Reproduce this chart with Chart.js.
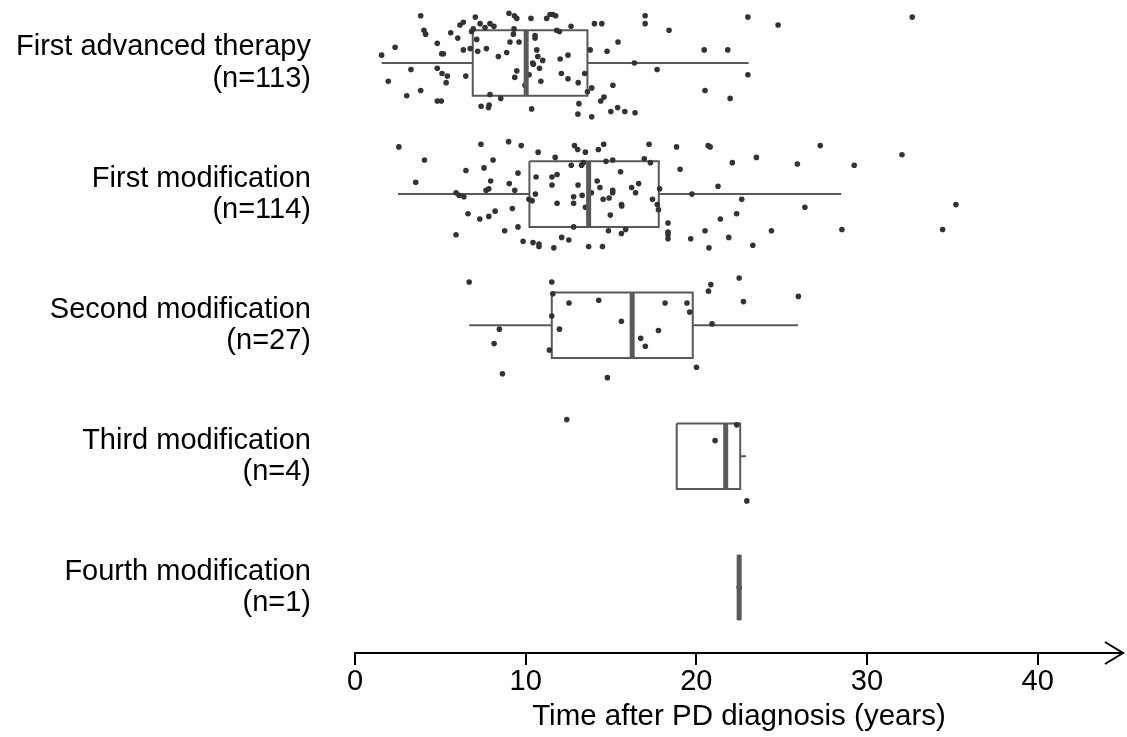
<!DOCTYPE html>
<html>
<head>
<meta charset="utf-8">
<script src="https://cdn.jsdelivr.net/npm/chart.js@4.4.1/dist/chart.umd.min.js"></script>
<style>
  html, body { margin: 0; padding: 0; background: #fff; }
</style>
</head>
<body>
<canvas id="chart" width="1127" height="737"></canvas>
<script>
const categories = [
    ["First advanced therapy", "(n=113)"],
    ["First modification", "(n=114)"],
    ["Second modification", "(n=27)"],
    ["Third modification", "(n=4)"],
    ["Fourth modification", "(n=1)"]
];
const xTicks = [0, 10, 20, 30, 40];

// box plot summaries (years)
const q1 = [6.90, 10.22, 11.53, 18.85, 22.51];
const medians = [10.03, 13.69, 16.24, 21.72, 22.51];
const q3 = [13.62, 17.80, 19.79, 22.57, 22.51];
const whiskerLow = [1.56, 2.52, 6.69, 18.85, 22.51];
const whiskerHigh = [23.06, 28.49, 25.96, 22.91, 22.51];

// individual patients: time (years) and vertical jitter
const firstTherapyTimes = [
    3.85, 2.35, 1.56, 4.04, 4.14, 4.82, 5.08, 5.18, 3.28, 4.82,
    5.10, 5.41, 5.34, 1.95, 3.85, 3.03, 4.82, 5.06, 5.61, 6.02,
    6.15, 6.35, 6.35, 6.49, 6.75, 6.83, 6.93, 7.05, 7.13, 7.19,
    7.33, 7.62, 7.70, 7.91, 8.14, 8.40, 8.89, 9.02, 9.34, 9.48,
    9.32, 9.28, 9.08, 9.61, 9.48, 9.36, 9.96, 7.39, 7.86, 7.91,
    7.82, 8.54, 10.31, 10.55, 10.55, 10.65, 10.71, 11.00, 10.41, 10.45,
    10.81, 10.20, 10.89, 10.35, 11.23, 11.43, 11.59, 11.76, 11.82, 11.98,
    12.02, 12.48, 12.09, 12.48, 12.66, 13.08, 13.46, 13.78, 13.62, 13.87,
    13.12, 13.06, 13.87, 14.03, 14.46, 14.77, 15.41, 15.11, 14.59, 14.40,
    14.99, 15.39, 15.81, 16.41, 16.37, 17.00, 17.00, 18.40, 17.70, 20.46,
    21.84, 20.51, 21.98, 23.02, 23.02, 24.79, 32.65
];
const firstTherapyJitter = [
    -0.36, -0.12, -0.06, -0.25, -0.22, -0.15, -0.07, -0.07, 0.05, 0.04,
    0.08, 0.10, 0.15, 0.14, 0.21, 0.25, 0.29, 0.29, -0.23, -0.19,
    -0.29, -0.31, -0.10, 0.10, -0.11, -0.24, -0.26, -0.35, -0.18, -0.09,
    -0.30, -0.27, -0.11, -0.30, -0.28, -0.05, -0.08, -0.38, -0.36, -0.34,
    -0.26, -0.22, -0.16, -0.16, 0.06, 0.11, 0.17, 0.33, 0.32, 0.24,
    0.34, 0.27, -0.34, -0.21, -0.19, -0.10, -0.05, -0.02, 0.00, 0.01,
    0.04, 0.09, 0.14, 0.35, -0.34, -0.37, -0.37, -0.36, -0.25, -0.24,
    -0.03, -0.06, 0.08, 0.12, -0.28, 0.15, 0.08, -0.10, 0.22, 0.19,
    0.31, 0.39, 0.41, -0.30, -0.30, -0.09, -0.16, 0.17, 0.26, 0.29,
    0.37, 0.34, 0.37, 0.38, 0.00, -0.36, -0.30, -0.25, 0.05, -0.10,
    -0.10, 0.21, 0.27, -0.35, 0.09, -0.29, -0.35
];

const firstModTimes = [
    2.57, 4.07, 3.56, 5.92, 6.10, 6.38, 6.62, 5.92, 6.50, 7.38,
    7.56, 8.09, 7.95, 7.68, 7.84, 7.31, 7.84, 8.21, 9.00, 9.74,
    9.55, 9.04, 9.36, 9.22, 8.77, 9.55, 9.85, 10.43, 10.78, 10.78,
    11.65, 10.73, 11.73, 10.61, 10.57, 10.19, 10.38, 11.54, 11.84, 11.54,
    11.84, 12.11, 12.53, 12.67, 12.86, 13.05, 13.50, 13.27, 13.38, 13.07,
    12.81, 12.81, 13.31, 13.50, 12.81, 13.69, 14.50, 13.85, 14.26, 14.57,
    14.71, 15.10, 14.19, 14.35, 15.10, 15.10, 14.54, 14.89, 15.56, 16.21,
    16.44, 16.62, 15.61, 15.63, 14.96, 14.85, 15.61, 15.86, 17.23, 16.95,
    17.31, 17.85, 17.43, 17.71, 17.78, 18.34, 18.34, 18.34, 18.34, 18.84,
    19.05, 19.74, 19.67, 20.51, 20.74, 20.69, 20.81, 21.27, 21.41, 21.90,
    22.11, 22.66, 22.36, 23.31, 23.52, 24.40, 25.92, 26.36, 27.26, 28.53,
    29.25, 32.05, 34.43, 35.21
];
const firstModJitter = [
    -0.36, -0.26, -0.09, -0.01, 0.01, 0.02, 0.15, 0.31, -0.18, -0.38,
    -0.20, -0.26, -0.10, -0.03, -0.04, 0.19, 0.17, 0.13, -0.40, -0.37,
    -0.16, -0.08, -0.03, 0.11, 0.28, 0.25, 0.36, 0.37, 0.38, 0.40,
    0.41, -0.32, -0.28, -0.13, 0.00, 0.04, 0.05, -0.13, -0.15, -0.07,
    0.07, 0.33, 0.35, -0.22, -0.37, -0.34, -0.32, -0.22, -0.24, -0.07,
    0.02, 0.07, 0.01, 0.10, 0.25, 0.40, 0.40, -0.01, -0.34, -0.38,
    -0.25, -0.26, -0.10, -0.05, -0.03, -0.01, 0.04, 0.03, -0.17, -0.05,
    -0.01, -0.08, 0.08, 0.09, 0.16, 0.28, 0.30, 0.27, -0.38, -0.27,
    -0.24, -0.04, 0.04, 0.08, 0.12, 0.22, 0.29, 0.31, 0.34, -0.36,
    -0.19, 0.00, 0.34, 0.28, 0.41, -0.37, -0.36, -0.06, 0.19, 0.33,
    -0.24, 0.04, 0.15, 0.39, -0.28, 0.28, -0.23, 0.10, -0.37, 0.27,
    -0.22, -0.30, 0.27, 0.08
];

const secondModTimes = [
    6.69, 8.46, 8.15, 8.64, 11.53, 11.59, 11.53, 11.98, 11.39, 12.54,
    14.28, 15.61, 14.79, 16.74, 17.01, 17.78, 18.17, 19.45, 19.61, 20.01,
    20.71, 20.85, 20.92, 22.51, 22.76, 25.98
];
const secondModJitter = [
    -0.33, 0.03, 0.14, 0.37, -0.33, -0.24, -0.07, 0.03, 0.19, -0.17,
    -0.19, -0.03, 0.40, 0.10, 0.16, 0.04, -0.17, -0.17, -0.10, 0.32,
    -0.26, -0.31, -0.01, -0.36, -0.18, -0.22
];

const thirdModTimes = [12.41, 21.10, 22.37, 22.96];
const thirdModJitter = [-0.28, -0.12, -0.24, 0.34];

const fourthModTimes = [22.51];
const fourthModJitter = [0.00];

const groups = [
    [firstTherapyTimes, firstTherapyJitter],
    [firstModTimes, firstModJitter],
    [secondModTimes, secondModJitter],
    [thirdModTimes, thirdModJitter],
    [fourthModTimes, fourthModJitter]
];

const BOX_HALF = 0.25;
const LINE_GREY = "#595959";
const POINT_GREY = "#333333";

Chart.defaults.font.family = "'Liberation Sans', Arial, sans-serif";
Chart.defaults.color = "#000";

function boxOutlines() {
    const pts = [];
    q1.forEach((lo, i) => {
        const hi = q3[i];
        pts.push(
            { x: lo, y: i - BOX_HALF }, { x: hi, y: i - BOX_HALF },
            { x: hi, y: i + BOX_HALF }, { x: lo, y: i + BOX_HALF },
            { x: lo, y: i - BOX_HALF }, { x: lo, y: null }
        );
    });
    return pts;
}

function whiskers() {
    const pts = [];
    q1.forEach((lo, i) => {
        pts.push({ x: whiskerLow[i], y: i }, { x: lo, y: i }, { x: lo, y: null });
        pts.push({ x: q3[i], y: i }, { x: whiskerHigh[i], y: i }, { x: q3[i], y: null });
    });
    return pts;
}

function medianLines() {
    const pts = [];
    medians.forEach((m, i) => {
        pts.push({ x: m, y: i - BOX_HALF }, { x: m, y: i + BOX_HALF }, { x: m, y: null });
    });
    return pts;
}

function jitterPoints() {
    const pts = [];
    groups.forEach(([times, jitter], i) => {
        times.forEach((t, k) => pts.push({ x: t, y: i + jitter[k] }));
    });
    return pts;
}

const arrowPlugin = {
    id: "axisArrow",
    afterDraw(chart) {
        const { ctx, chartArea } = chart;
        const y = chart.scales.x.top;
        ctx.save();
        ctx.strokeStyle = "#000";
        ctx.lineWidth = 2;
        ctx.beginPath();
        ctx.moveTo(chartArea.right - 18, y - 11);
        ctx.lineTo(chartArea.right, y);
        ctx.lineTo(chartArea.right - 18, y + 11);
        ctx.stroke();
        ctx.restore();
    }
};

const lineStyle = {
    showLine: true,
    pointRadius: 0,
    pointHoverRadius: 0,
    borderColor: LINE_GREY,
    spanGaps: false,
    clip: false
};

// first dataset is drawn last (on top)
new Chart(document.getElementById("chart"), {
    type: "scatter",
    data: {
        datasets: [
            { ...lineStyle, data: medianLines(), borderWidth: 5, borderCapStyle: "butt" },
            {
                data: jitterPoints(),
                pointRadius: 2.8,
                pointBackgroundColor: POINT_GREY,
                pointBorderWidth: 0,
                clip: false
            },
            { ...lineStyle, data: boxOutlines(), borderWidth: 2, borderJoinStyle: "miter" },
            { ...lineStyle, data: whiskers(), borderWidth: 2 }
        ]
    },
    options: {
        responsive: false,
        animation: false,
        layout: { padding: { top: 3.5, right: 4, left: 0, bottom: 0 } },
        plugins: { legend: { display: false }, tooltip: { enabled: false } },
        scales: {
            x: {
                type: "linear",
                min: 0,
                max: 45,
                afterBuildTicks: s => { s.ticks = xTicks.map(v => ({ value: v })); },
                afterFit: s => { s.height = 84; s.paddingLeft = 0; s.paddingRight = 0; },
                grid: {
                    display: true,
                    drawOnChartArea: false,
                    drawTicks: true,
                    tickLength: 12,
                    color: "#000",
                    lineWidth: 2
                },
                border: { display: true, color: "#000", width: 2 },
                ticks: {
                    font: { size: 29 },
                    color: "#000",
                    padding: 0,
                    autoSkip: false,
                    maxRotation: 0
                },
                title: {
                    display: true,
                    text: "Time after PD diagnosis (years)",
                    font: { size: 29.5 },
                    color: "#000",
                    padding: { top: 0, bottom: 2 }
                }
            },
            y: {
                type: "linear",
                reverse: true,
                min: -0.45,
                max: 4.5,
                afterBuildTicks: s => { s.ticks = categories.map((c, i) => ({ value: i })); },
                afterFit: s => { s.width = 355; s.paddingTop = 0; s.paddingBottom = 0; },
                grid: { display: false },
                border: { display: false },
                ticks: {
                    callback: v => categories[v],
                    font: { size: 29, lineHeight: 1.07 },
                    color: "#000",
                    padding: 36,
                    autoSkip: false
                }
            }
        }
    },
    plugins: [arrowPlugin]
});
</script>
</body>
</html>
